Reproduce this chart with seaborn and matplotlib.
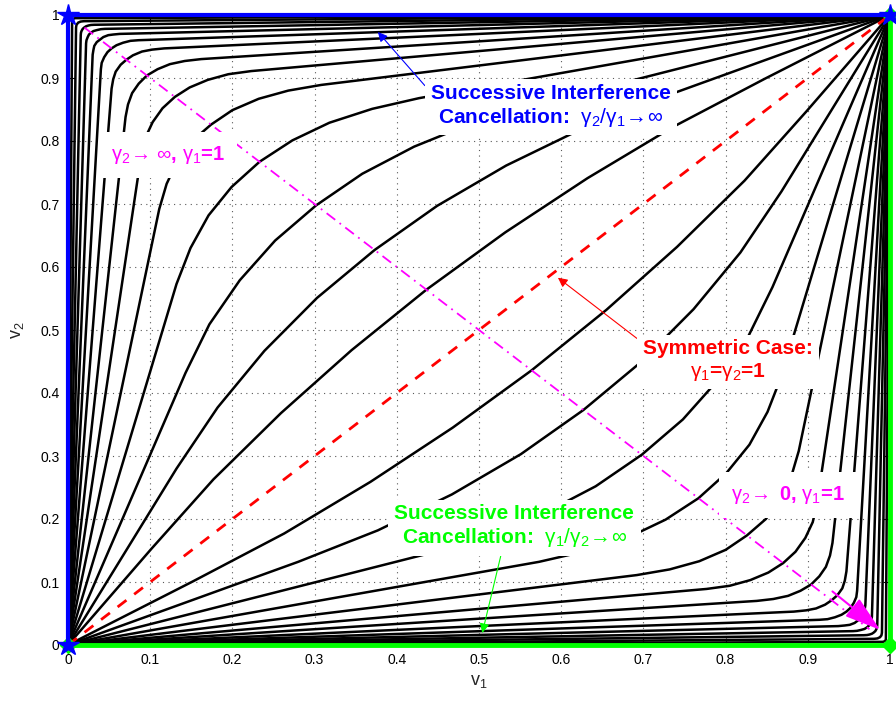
import matplotlib
matplotlib.use("Agg")
import matplotlib.pyplot as plt
import numpy as np
import pandas as pd
import seaborn as sns

# Lower-right family of curves, read from the origin up to the anti-diagonal
# (each curve is mirrored about v1+v2=1; the upper-left family is the swap).
half_v1 = [
    [0, 0.152, 0.263, 0.368, 0.468, 0.564],
    [0, 0.280, 0.377, 0.467, 0.551, 0.627],
    [0, 0.432, 0.509, 0.579, 0.642, 0.698],
    [0, 0.573, 0.630, 0.682, 0.727, 0.767],
    [0, 0.692, 0.732, 0.768, 0.800, 0.826],
    [0, 0.777, 0.805, 0.830, 0.852, 0.870],
    [0, 0.838, 0.858, 0.876, 0.891, 0.904],
    [0, 0.883, 0.898, 0.910, 0.921, 0.929],
    [0, 0.914, 0.924, 0.933, 0.941, 0.947],
    [0, 0.937, 0.945, 0.951, 0.957, 0.961],
    [0, 0.955, 0.960, 0.965, 0.969, 0.972],
    [0, 0.968, 0.972, 0.975, 0.978, 0.980],
    [0, 0.980, 0.982, 0.985, 0.986, 0.988],
    [0, 0.990, 0.991, 0.992, 0.993, 0.994],
]
half_v2 = [
    [0, 0.101, 0.177, 0.259, 0.345, 0.436],
    [0, 0.132, 0.182, 0.239, 0.303, 0.373],
    [0, 0.143, 0.172, 0.209, 0.252, 0.302],
    [0, 0.132, 0.149, 0.171, 0.199, 0.233],
    [0, 0.111, 0.120, 0.133, 0.151, 0.174],
    [0, 0.089, 0.094, 0.103, 0.115, 0.130],
    [0, 0.070, 0.073, 0.078, 0.086, 0.096],
    [0, 0.053, 0.055, 0.058, 0.064, 0.071],
    [0, 0.040, 0.041, 0.044, 0.048, 0.053],
    [0, 0.030, 0.031, 0.032, 0.035, 0.039],
    [0, 0.022, 0.0225, 0.024, 0.0255, 0.028],
    [0, 0.0155, 0.0158, 0.0166, 0.0179, 0.0196],
    [0, 0.0098, 0.010, 0.0105, 0.0113, 0.0124],
    [0, 0.005, 0.005, 0.0053, 0.0057, 0.0062],
]

blue_v1 = [0, 0, 1]
blue_v2 = [0, 1, 1]
green_v1 = [0, 1, 1]
green_v2 = [0, 0, 1]
sym_v = [0, 1]
anti_v1 = [0.02, 0.975]
anti_v2 = [0.98, 0.025]
ticks = [0, 0.1, 0.2, 0.3, 0.4, 0.5, 0.6, 0.7, 0.8, 0.9, 1]
tick_labels = ["0", "0.1", "0.2", "0.3", "0.4", "0.5", "0.6", "0.7", "0.8", "0.9", "1"]

sns.set_theme(style="white")
plt.rcParams["font.family"] = ["Liberation Sans", "DejaVu Sans"]
plt.rcParams["mathtext.fontset"] = "custom"
plt.rcParams["mathtext.rm"] = "Liberation Sans"
plt.rcParams["mathtext.it"] = "Liberation Sans:italic"
plt.rcParams["mathtext.bf"] = "Liberation Sans:bold"

rows = []
for i, (hx, hy) in enumerate(zip(half_v1, half_v2)):
    hx, hy = np.array(hx), np.array(hy)
    x = np.concatenate([hx, 1 - hy[-2::-1]])
    y = np.concatenate([hy, 1 - hx[-2::-1]])
    for j, (a, b) in enumerate(zip(x, y)):
        rows.append({"curve": f"lo{i}", "order": j, "v1": a, "v2": b})
        rows.append({"curve": f"up{i}", "order": j, "v1": b, "v2": a})
curves = pd.DataFrame(rows)

fig = plt.figure(figsize=(8.96, 7.02), dpi=100)
ax = fig.add_axes([68 / 896, 57 / 702, 822 / 896, 630 / 702])

sns.lineplot(data=curves, x="v1", y="v2", units="curve", estimator=None,
             sort=False, color="black", lw=1.8, ax=ax, zorder=2)

sns.lineplot(x=sym_v, y=sym_v, sort=False, color="red", lw=2,
             ax=ax, zorder=3, linestyle=(0, (4, 3.5)))
ax.plot(anti_v1, anti_v2, color="magenta", lw=1.3,
        linestyle=(0, (6, 3, 1, 3)), zorder=3)

ax.plot(green_v1, green_v2, color="#00ff00", lw=3.5, marker="D", ms=8,
        clip_on=False, zorder=6)
ax.plot(blue_v1, blue_v2, color="#0000ff", lw=3, marker="*", ms=16,
        clip_on=False, zorder=7)

box = dict(boxstyle="square,pad=0.3", fc="white", ec="none")
ax.annotate("Successive Interference\n"
            r"Cancellation:  $\mathrm{\gamma_2/\gamma_1\!\rightarrow\!\infty}$",
            xy=(0.377, 0.973), xytext=(0.5876, 0.855), color="#0000ff",
            fontsize=15, fontweight="bold", ha="center", va="center",
            multialignment="center", bbox=box, zorder=8,
            arrowprops=dict(arrowstyle="-|>", color="#0000ff", lw=0.8,
                            mutation_scale=14, shrinkA=0, shrinkB=0,
                            relpos=(0.0, 0.8)))
ax.annotate("Symmetric Case:\n" r"$\mathrm{\gamma_1}$=$\mathrm{\gamma_2}$=1",
            xy=(0.596, 0.583), xytext=(0.803, 0.451), color="red",
            fontsize=15, fontweight="bold", ha="center", va="center",
            multialignment="center", bbox=box, zorder=8,
            arrowprops=dict(arrowstyle="-|>", color="red", lw=0.8,
                            mutation_scale=14, shrinkA=0, shrinkB=0,
                            relpos=(0.0, 0.9)))
ax.annotate("Successive Interference\n"
            r"Cancellation:  $\mathrm{\gamma_1/\gamma_2\!\rightarrow\!\infty}$",
            xy=(0.504, 0.019), xytext=(0.543, 0.188), color="#00ff00",
            fontsize=15, fontweight="bold", ha="center", va="center",
            multialignment="center", bbox=box, zorder=8,
            arrowprops=dict(arrowstyle="-|>", color="#00ff00", lw=0.8,
                            mutation_scale=14, shrinkA=0, shrinkB=0,
                            relpos=(0.45, 0.0)))
ax.text(0.122, 0.778, r"$\mathrm{\gamma_2\!\rightarrow\,\infty}$, $\mathrm{\gamma_1}$=1",
        color="magenta", fontsize=14.5, fontweight="bold", ha="center",
        va="center", bbox=dict(boxstyle="square,pad=0.6", fc="white", ec="none"),
        zorder=8)
ax.text(0.876, 0.238, r"$\mathrm{\gamma_2\!\rightarrow}$ 0, $\mathrm{\gamma_1}$=1",
        color="magenta", fontsize=14.5, fontweight="bold", ha="center",
        va="center", bbox=dict(boxstyle="square,pad=0.6", fc="white", ec="none"),
        zorder=8)
ax.annotate("", xy=(0.988, 0.024), xytext=(0.93, 0.085),
            arrowprops=dict(arrowstyle="-|>,head_length=1.6,head_width=0.5",
                            color="magenta", lw=1.5, mutation_scale=14,
                            shrinkA=0, shrinkB=0), zorder=8)

ax.set_xlim(0, 1)
ax.set_ylim(0, 1)
ax.set_xticks(ticks)
ax.set_yticks(ticks)
ax.set_xticklabels(tick_labels)
ax.set_yticklabels(tick_labels)
ax.tick_params(direction="in", length=5, width=0.8, labelsize=10, colors="black",
               top=True, right=True, bottom=True, left=True, pad=6)
ax.grid(True, color="0.35", linestyle=(0, (1, 4)), lw=0.8)
for sp in ax.spines.values():
    sp.set_color("black")
    sp.set_linewidth(0.8)
ax.set_xlabel(r"v$_1$", fontsize=13, labelpad=4)
ax.set_ylabel(r"v$_2$", fontsize=13, labelpad=10)

fig.savefig("out.png", dpi=100)
